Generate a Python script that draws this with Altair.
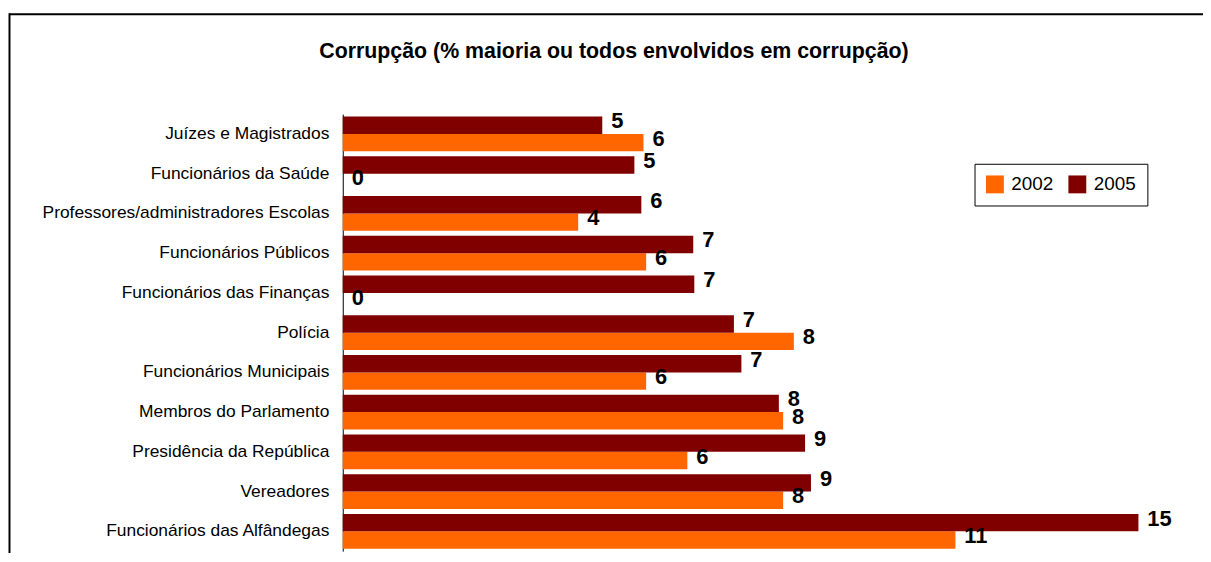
import altair as alt
import pandas as pd

categories = [
    "Juízes e Magistrados",
    "Funcionários da Saúde",
    "Professores/administradores Escolas",
    "Funcionários Públicos",
    "Funcionários das Finanças",
    "Polícia",
    "Funcionários Municipais",
    "Membros do Parlamento",
    "Presidência da República",
    "Vereadores",
    "Funcionários das Alfândegas",
]
years = ["2002", "2005"]
v2002 = [5.62, 0.0, 4.40, 5.67, 0.0, 8.43, 5.67, 8.23, 6.44, 8.23, 11.45]
v2005 = [4.85, 5.45, 5.58, 6.55, 6.57, 7.31, 7.45, 8.15, 8.64, 8.75, 14.87]
colors = ["#FF6600", "#800000"]
title_text = "Corrupção (% maioria ou todos envolvidos em corrupção)"

rows = []
for c, a, b in zip(categories, v2002, v2005):
    rows.append({"cat": c, "year": "2002", "value": a})
    rows.append({"cat": c, "year": "2005", "value": b})
df = pd.DataFrame(rows)

FONT = "Liberation Sans, Arial, sans-serif"

W, H = 808, 440

y_enc = alt.Y(
    "cat:N",
    sort=categories,
    scale=alt.Scale(paddingInner=0.125, paddingOuter=0.0625),
    axis=alt.Axis(
        title=None,
        ticks=False,
        labelFont=FONT,
        labelFontSize=17.5,
        labelColor="black",
        labelPadding=14,
        domainColor="black",
        domainWidth=1,
        labelLimit=400,
    ),
)
yoff = alt.YOffset("year:N", scale=alt.Scale(domain=["2005", "2002"], paddingInner=0, paddingOuter=0))
x_enc = alt.X("value:Q", scale=alt.Scale(domain=[0, 15], nice=False), axis=None)

base = alt.Chart(df)

bars = base.mark_bar().encode(
    x=x_enc,
    y=y_enc,
    yOffset=yoff,
    color=alt.Color(
        "year:N",
        scale=alt.Scale(domain=years, range=colors),
        legend=alt.Legend(
            title=None,
            orient="none",
            legendX=636,
            legendY=50,
            direction="horizontal",
            symbolType="square",
            symbolSize=324,
            symbolStrokeWidth=0,
            labelFont=FONT,
            labelFontSize=19,
            labelColor="black",
            labelOffset=7,
            columnPadding=14,
            padding=11,
            strokeColor="black",
            fillColor="white",
        ),
    ),
)

labels = base.mark_text(
    align="left", baseline="middle", dx=9, dy=-4,
    font=FONT, fontSize=22, fontWeight="bold", color="black",
).encode(
    x=x_enc,
    y=alt.Y("cat:N", sort=categories),
    yOffset=yoff,
    text=alt.Text("value:Q", format=".0f"),
)

title = alt.Chart(pd.DataFrame({"t": [title_text]})).mark_text(
    align="center", baseline="alphabetic",
    font=FONT, fontSize=21.5, fontWeight="bold", color="black",
).encode(x=alt.value(273), y=alt.value(-56), text="t:N")

frame_top = alt.Chart(pd.DataFrame({"k": [0]})).mark_rule(color="black", strokeWidth=2).encode(
    x=alt.value(-335.5), x2=alt.value(880), y=alt.value(-100.5)
)
frame_left = alt.Chart(pd.DataFrame({"k": [0]})).mark_rule(color="black", strokeWidth=2).encode(
    x=alt.value(-335.5), y=alt.value(-101.5), y2=alt.value(460)
)

chart = alt.layer(bars, labels, title, frame_top, frame_left).properties(
    width=W,
    height=H,
    autosize=alt.AutoSizeParams(type="none"),
    padding={"left": 337, "top": 105, "right": 58, "bottom": 0},
).configure(background="white").configure_view(stroke=None)

chart.save("out.html", embed_options={"renderer": "svg", "actions": False})
